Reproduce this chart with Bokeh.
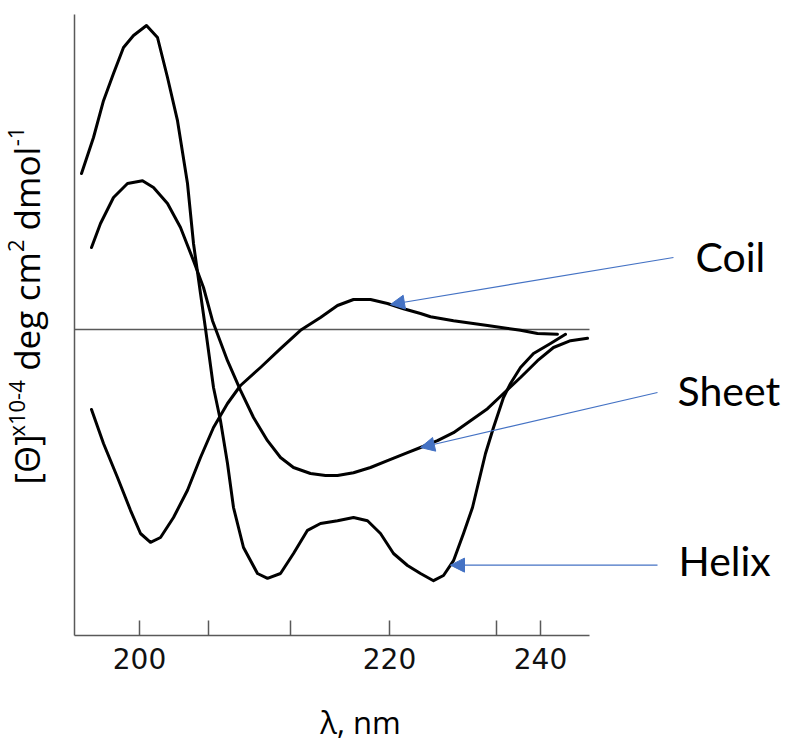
import numpy as np
from bokeh.plotting import figure
from bokeh.models import Label, Arrow, NormalHead, FixedTicker
from bokeh.embed import file_html
from bokeh.resources import INLINE

# CD spectra of the three secondary-structure types (sketch coordinates, theta in 1e4 units)
helix_nm = [195.36, 196.32, 197.12, 197.92, 198.72, 199.52, 200.56, 201.44, 202.24, 203.04,
            203.84, 204.32, 204.88, 205.28, 205.92, 206.48, 207.04, 207.52, 208.32, 209.44,
            210.24, 211.28, 212.32, 213.44, 214.48, 215.84, 217.12, 218.24, 219.28, 220.32,
            221.44, 222.48, 223.52, 224.32, 225.12, 225.92, 226.64, 227.68, 228.32, 229.12,
            229.68, 230.48, 231.52, 232.88, 234.08]
helix_theta = [3.90, 4.80, 5.72, 6.40, 7.05, 7.35, 7.60, 7.30, 6.30, 5.22,
               3.65, 2.15, 0.90, 0.02, -1.45, -2.28, -3.35, -4.45, -5.45, -6.10,
               -6.22, -6.10, -5.60, -5.02, -4.85, -4.78, -4.70, -4.78, -5.10, -5.60,
               -5.90, -6.10, -6.28, -6.15, -5.78, -5.10, -4.45, -3.10, -2.45, -1.70,
               -1.35, -0.95, -0.60, -0.35, -0.12]

sheet_nm = [196.16, 196.88, 197.92, 199.04, 200.24, 201.12, 202.24, 203.28, 204.32, 205.12,
            205.84, 207.04, 208.08, 209.12, 210.24, 211.28, 212.32, 213.68, 214.88, 215.84,
            217.12, 218.48, 219.84, 221.44, 222.48, 223.84, 225.12, 226.48, 227.84, 229.12,
            230.48, 231.84, 233.12, 234.48, 235.84]
sheet_theta = [2.05, 2.65, 3.30, 3.65, 3.72, 3.55, 3.15, 2.55, 1.72, 1.05,
               0.22, -0.78, -1.52, -2.20, -2.78, -3.20, -3.45, -3.60, -3.65, -3.65,
               -3.58, -3.45, -3.28, -3.08, -2.95, -2.78, -2.58, -2.28, -1.98, -1.60,
               -1.20, -0.78, -0.45, -0.28, -0.22]

coil_nm = [196.16, 197.12, 198.24, 199.28, 200.08, 200.88, 201.68, 202.72, 203.84, 204.88,
           205.92, 207.04, 208.08, 209.68, 211.28, 212.88, 214.48, 215.84, 217.12, 218.48,
           219.84, 221.12, 222.48, 223.28, 225.12, 227.84, 230.48, 231.84, 233.44]
coil_theta = [-2.00, -2.85, -3.70, -4.52, -5.10, -5.32, -5.20, -4.70, -4.02, -3.20,
              -2.45, -1.85, -1.40, -0.95, -0.48, -0.02, 0.30, 0.60, 0.75, 0.75,
              0.65, 0.52, 0.40, 0.32, 0.22, 0.10, -0.02, -0.10, -0.12]

# wavelength axis ticks (the sketch compresses the long-wavelength end)
tick_pos = [200, 205.52, 212.08, 220, 228.56, 232.08]
tick_text = ["200", "", "", "220", "", "240"]

# axis extents
X0, X1 = 194.8, 236.0
Y0, Y1 = -7.65, 7.875

W, H = 791, 742
p = figure(width=W, height=H, output_backend="svg", toolbar_location=None,
           x_range=(188.88, 252.16), y_range=(-10.325, 8.225),
           min_border_left=0, min_border_right=0, min_border_top=0, min_border_bottom=0)
p.outline_line_color = None
p.grid.visible = False
p.background_fill_color = "white"
p.border_fill_color = "white"

AX = "#595959"
xa = p.xaxis[0]
xa.fixed_location = Y0
xa.bounds = (X0, X1)
xa.ticker = FixedTicker(ticks=tick_pos)
xa.major_label_overrides = {t: s for t, s in zip(tick_pos, tick_text)}
xa.minor_tick_line_color = None
xa.major_tick_in = 15
xa.major_tick_out = 0
xa.major_tick_line_color = AX
xa.major_tick_line_width = 1.5
xa.axis_line_color = AX
xa.axis_line_width = 1.5
xa.major_label_text_font = "DejaVu Sans"
xa.major_label_text_font_size = "28px"
xa.major_label_text_color = "#111111"
xa.major_label_standoff = 12

ya = p.yaxis[0]
ya.fixed_location = X0
ya.bounds = (Y0, Y1)
ya.ticker = FixedTicker(ticks=[])
ya.minor_tick_line_color = None
ya.major_tick_line_color = None
ya.axis_line_color = AX
ya.axis_line_width = 1.5

# zero line across the axis extent
p.segment(x0=[X0], y0=[0], x1=[X1], y1=[0], line_color=AX, line_width=1.5)

for xs, ys in [(helix_nm, helix_theta), (sheet_nm, sheet_theta), (coil_nm, coil_theta)]:
    p.line(xs, ys, line_color="black", line_width=3, line_join="round", line_cap="round")

# annotations with arrows
BLUE = "#4472C4"
notes = [
    ("Coil", coil_nm, coil_theta, 220.08, 242.72, 1.80, 244.48, 1.825),
    ("Sheet", sheet_nm, sheet_theta, 222.48, 241.44, -1.575, 243.04, -1.525),
    ("Helix", helix_nm, helix_theta, 224.88, 241.44, None, 243.12, -5.775),
]
for name, xs, ys, tip_x, tail_x, tail_y, lab_x, lab_y in notes:
    tip_y = float(np.interp(tip_x, xs, ys))
    if tail_y is None:
        tail_y = tip_y
    p.add_layout(Arrow(end=NormalHead(size=14, fill_color=BLUE, line_color=BLUE),
                       x_start=tail_x, y_start=tail_y, x_end=tip_x, y_end=tip_y,
                       line_color=BLUE, line_width=1.2))
    p.add_layout(Label(x=lab_x, y=lab_y, text=name, text_font="Lato", text_font_size="41px",
                       text_color="black", text_baseline="alphabetic"))

# x-axis title
p.add_layout(Label(x=217.68, y=-9.8, text="λ, nm", text_font="Open Sans",
                   text_font_size="31px", text_color="black", text_align="center",
                   text_baseline="alphabetic"))

# rotated y-axis title with superscripts, laid out piece by piece
EM = {"[": 0.295, "]": 0.295, "Θ": 0.78, "x": 0.536, "1": 0.572, "0": 0.572, "-": 0.322,
      "4": 0.572, "d": 0.613, "e": 0.561, "g": 0.551, "c": 0.478, "m": 0.93,
      "o": 0.604, "l": 0.258, "2": 0.572}
SPACE = 0.26
MAIN, SUP = 35, 22
pieces = [("[Θ]", False, False), ("x10-4", True, False), ("deg", False, True),
          ("cm", False, True), ("2", True, False), ("dmol", False, True), ("-1", True, False)]
ppu = 40.0  # pixels per theta unit on the vertical axis
y_cur = -3.875
x_main, x_sup = 190.96, 190.12
for txt, sup, gap in pieces:
    if gap:
        y_cur += SPACE * MAIN / ppu
    size = SUP if sup else MAIN
    p.add_layout(Label(x=x_sup if sup else x_main, y=y_cur, text=txt, angle=90, angle_units="deg",
                       text_font="Open Sans", text_font_size=f"{size}px", text_color="black",
                       text_baseline="alphabetic", text_align="left"))
    y_cur += sum(EM.get(ch, 0.55) for ch in txt) * size / ppu

open("out.html", "w").write(file_html(p, INLINE))
